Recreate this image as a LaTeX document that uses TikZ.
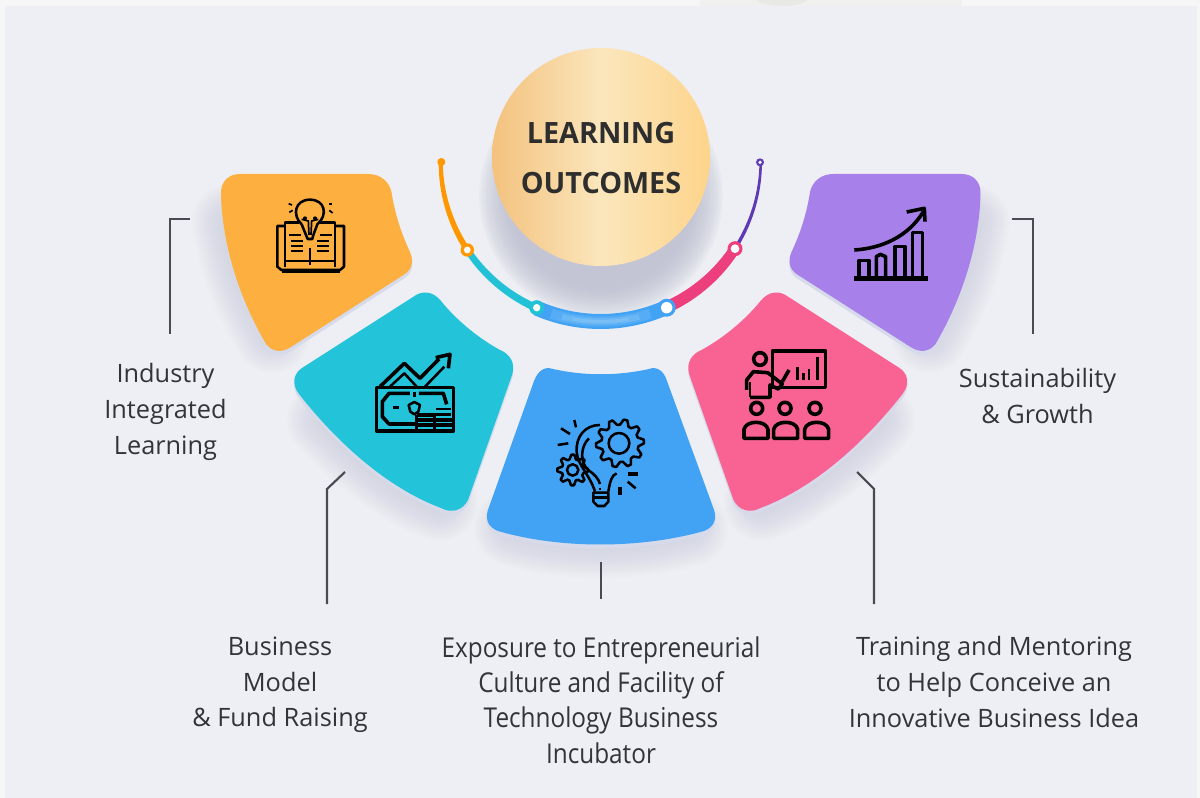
\documentclass[tikz,border=0pt]{standalone}
\usepackage{fontspec}
\setmainfont{Open Sans}
\newfontfamily\condfont[FakeStretch=0.89]{Open Sans}
\newfontfamily\titlefont[FakeStretch=0.98]{Open Sans}
\usetikzlibrary{calc}
\definecolor{pagebg}{HTML}{F6F6F6}
\definecolor{panelbg}{HTML}{EEEFF4}
\definecolor{patchA}{HTML}{F0F1EF}
\definecolor{patchB}{HTML}{E8E8E5}
\definecolor{shc}{HTML}{BCBED0}
\definecolor{edgec}{HTML}{D6DAEA}
\definecolor{leadc}{HTML}{4A4A55}
\definecolor{txt}{HTML}{33333A}
\definecolor{titlec}{HTML}{2E2E2E}
\definecolor{corange}{HTML}{FDB040}
\definecolor{cteal}{HTML}{23C3D9}
\definecolor{cblue}{HTML}{42A3F5}
\definecolor{cpink}{HTML}{F96394}
\definecolor{cpurple}{HTML}{A781E9}
\definecolor{aorange}{HTML}{FF9800}
\definecolor{ateal}{HTML}{22C1D6}
\definecolor{ablue}{HTML}{42A3F5}
\definecolor{ablight}{HTML}{A6D6F8}
\definecolor{apink}{HTML}{EC3F7C}
\definecolor{apurple}{HTML}{5E3AB5}
\definecolor{gradL}{HTML}{F3C27E}
\definecolor{gradM}{HTML}{FBE6BC}
\definecolor{gradR}{HTML}{FDD48B}
\newcommand\shapeA{(240,174) -- (368,174) .. controls (380,174) and (389,181) .. (391.5,192) .. controls (395,215) and (402,235) .. (410,252) .. controls (414,261) and (412,269) .. (405,274) -- (291,347) .. controls (282,353) and (272,352) .. (266,344) .. controls (240,300) and (222,245) .. (221,194) .. controls (220.5,181) and (229,174) .. (240,174) -- cycle}
\newcommand\shapeB{(413,297) -- (302,368) .. controls (294,373) and (291,384) .. (299,394) .. controls (335,440) and (385,487) .. (441,508) .. controls (452,514) and (463,510) .. (468,500) -- (511,378) .. controls (516,366) and (512,357) .. (504,352) .. controls (482,341) and (458,322) .. (441,301) .. controls (433,291) and (422,290) .. (413,297) -- cycle}
\newcommand\shapeC{(534,381) .. controls (538,371) and (544,366) .. (553,369) .. controls (585,376) and (617,376) .. (649,369) .. controls (657,366) and (664,371) .. (667,381) -- (713,507) .. controls (718,519) and (714,527) .. (704,531) .. controls (640,549) and (560,549) .. (498,531) .. controls (488,527) and (484,519) .. (489,507) -- cycle}
\newcommand\outerA{(272,335) .. controls (252,300) and (236,265) .. (230,222)}
\newcommand\outerB{(325,420) .. controls (350,445) and (390,485) .. (440,503)}
\newcommand\outerC{(512,528) .. controls (560,544) and (640,544) .. (690,528)}
\newcommand\softshadow[1]{%
  \foreach \w in {4,8,...,76} \draw[shc,opacity=.03,line width=\w*0.75pt,line cap=round] #1;}
\newcommand\petal[2]{%
  \fill[edgec,shift={(0,4)}] #1;
  \fill[#2] #1;}
\newcommand\taperarc[5]{%
  \fill[#1] plot[domain=#2:#3,samples=40,variable=\a] ({600.7+(160+(#4+(#5-#4)*(\a-#2)/(#3-#2))/2)*cos(\a)},{161.5+(160+(#4+(#5-#4)*(\a-#2)/(#3-#2))/2)*sin(\a)})
   -- plot[domain=#3:#2,samples=40,variable=\a] ({600.7+(160-(#4+(#5-#4)*(\a-#2)/(#3-#2))/2)*cos(\a)},{161.5+(160-(#4+(#5-#4)*(\a-#2)/(#3-#2))/2)*sin(\a)}) -- cycle;}
\newcommand\ring[6]{% name x y colour outer inner
  \node[circle,fill=#4,minimum size=#5*0.75pt,inner sep=0pt] (#1) at (#2,#3) {};
  \fill[white] (#1.center) circle[radius=#6];}
\newcommand\gearicon[7]{% cx cy rin rout samples count rot
  \draw[ic] plot[domain=0:#6,samples=#5,variable=\i] ({#1+(mod(round(\i),4)<2?#4:#3)*cos(#7+\i*360/#6)},{#2+(mod(round(\i),4)<2?#4:#3)*sin(#7+\i*360/#6)}) -- cycle;}
\tikzset{
  lead/.style={draw=leadc,line width=1.6pt,line join=miter},
  lab/.style={text=txt,align=center,inner sep=0pt,font=\fontsize{19pt}{26.8pt}\selectfont},
  labc/.style={text=txt,align=center,inner sep=0pt,font=\condfont\fontsize{20.5pt}{26.4pt}\selectfont},
  ic/.style={draw=black,line width=1.9pt,line join=round},
  icb/.style={draw=black,line width=2.7pt,line join=round},
  icn/.style={draw=black,line width=1.3pt},
}
\begin{document}
\begin{tikzpicture}[x=0.75pt,y=-0.75pt]
\useasboundingbox (0,0) rectangle (1200,798);
\fill[pagebg] (0,0) rectangle (1200,798);
\fill[patchA] (700,0) rectangle (962,6);
\fill[patchB] (757,0) .. controls (765,8) and (800,8) .. (807,0) -- cycle;
\fill[panelbg] (5,6) rectangle (1197,798);

% soft shadows
\softshadow{\outerA}
\softshadow{\outerB}
\softshadow{\outerC}
\begin{scope}[shift={(1201.5,0)},xscale=-1]
\softshadow{\outerA}
\softshadow{\outerB}
\end{scope}
% petals
\petal{\shapeA}{corange}
\petal{\shapeB}{cteal}
\petal{\shapeC}{cblue}
\begin{scope}[shift={(1201.5,0)},xscale=-1]
\petal{\shapeB}{cpink}
\petal{\shapeA}{cpurple}
\end{scope}

% central circle with shadow
\foreach \r in {122,120,...,92} \fill[shc,opacity=.09] (601,196) circle[radius=\r];
\shade[left color=gradL,right color=gradR,middle color=gradM] (601,157) circle[radius=109];
\node[inner sep=0pt,align=center,text=titlec,font=\titlefont\bfseries\fontsize{22pt}{37.5pt}\selectfont] (title) at (601,158) {LEARNING\\OUTCOMES};

% arc
\taperarc{aorange}{180}{146.4}{4}{6}
\taperarc{ateal}{146.4}{113.6}{6.5}{7.5}
\taperarc{ablue}{113.6}{65.7}{15}{15}
\taperarc{ablight,opacity=.2}{108}{72}{10}{10}
\taperarc{ablight,opacity=.25}{104}{76}{6}{6}
\taperarc{ablight,opacity=.25}{100}{80}{3}{3}
\taperarc{apink}{65.7}{33}{12}{10.5}
\taperarc{apurple}{33}{0.3}{3.5}{2.5}
\node[circle,fill=aorange,minimum size=6pt,inner sep=0pt] (dotA) at (441.3,162) {};
\ring{nA}{467.3}{250}{aorange}{13.4}{3.4}
\ring{nB}{536.7}{307.7}{ateal}{15}{3.7}
\ring{nC}{666.7}{307.7}{ablue}{18}{5.7}
\ring{nD}{735}{248.7}{apink}{15}{4.4}
\ring{nE}{760}{162.3}{apurple}{8}{1.8}

% leaders
\coordinate (l1a) at (190,219); \coordinate (l1b) at (170,219); \coordinate (l1c) at (170,334);
\draw[lead] (l1a) -- (l1b) -- (l1c);
\coordinate (r1a) at (1012,219); \coordinate (r1b) at (1033,219); \coordinate (r1c) at (1033,334);
\draw[lead] (r1a) -- (r1b) -- (r1c);
\coordinate (l2a) at (345,472); \coordinate (l2b) at (327,489); \coordinate (l2c) at (327,604);
\draw[lead] (l2a) -- (l2b) -- (l2c);
\coordinate (r2a) at (857,472); \coordinate (r2b) at (874,489); \coordinate (r2c) at (874,604);
\draw[lead] (r2a) -- (r2b) -- (r2c);
\coordinate (c1a) at (601,562); \coordinate (c1b) at (601,599);
\draw[lead] (c1a) -- (c1b);

% labels
\node[lab] (t1) at (165.5,412) {Industry\\Integrated\\Learning};
\node[lab] (t2) at (1037.5,396) {Sustainability\\\& Growth};
\node[lab] (t3) at (280,685) {Business\\Model\\\& Fund Raising};
\node[labc] (t4) at (601,700) {Exposure to Entrepreneurial\\Culture and Facility of\\Technology Business\\Incubator};
\node[lab] (t5) at (994,682) {Training and Mentoring\\to Help Conceive an\\Innovative Business Idea};

% icon: book and bulb
\begin{scope}[shift={(260,185)},scale=0.3333]
\draw[ic] (125,118) .. controls (95,90) and (105,44) .. (150,44) .. controls (195,44) and (205,90) .. (172,118) -- (160,150);
\draw[ic] (125,118) -- (138,150) -- (143,162) -- (157,162) -- (160,150);
\draw[icn] (125,103) -- (145,108) -- (147,150); \draw[icn] (175,103) -- (155,108) -- (153,150);
\fill (135,100) circle[radius=6]; \fill (165,100) circle[radius=6];
\draw[icn] (86,56) -- (96,60); \draw[icn] (88,82) -- (98,76); \draw[icn] (208,57) -- (216,57); \draw[icn] (208,76) -- (218,84);
\draw[ic] (75,123) -- (52,123) -- (52,245) -- (64,255) -- (240,255) -- (252,245) -- (252,123) -- (225,123);
\draw[ic] (75,245) -- (75,112) -- (118,112); \draw[ic] (225,245) -- (225,112) -- (180,112);
\draw[ic] (75,228) -- (225,228);
\draw[icb] (65,260) -- (240,260);
\draw[ic] (150,190) -- (150,240);
\foreach \y/\a in {150/88,168/92,183/92,198/92} \draw[ic] (\a,\y) -- ++(36,0);
\foreach \y/\a in {150/180,168/172,183/172,198/172} \draw[ic] (\a,\y) -- ++(36,0);
\end{scope}

% icon: money and growth
\begin{scope}[shift={(365,345)},scale=0.3333]
\draw[icb] (35,128) rectangle (265,258);
\draw[icb] (35,258) -- (265,258);
\draw[icb] (45,125) -- (118,55) -- (165,100) -- (222,42);
\draw[ic] (75,125) -- (118,85) -- (155,125);
\draw[ic] (180,125) -- (238,65);
\draw[icb] (212,38) -- (255,28) -- (250,70);
\draw[icb] (135,145) -- (72,145) -- (52,170) -- (52,215) -- (72,237) -- (150,237);
\draw[icb] (162,145) -- (235,145) -- (245,178);
\draw[ic] (148,171) -- (165,180) -- (160,200) -- (148,208) -- (136,200) -- (131,180) -- cycle;
\draw[icb] (84,188) -- (102,188);
\draw[ic] (148,142) -- (148,155);
\draw[icb] (157,210) -- (205,210); \draw[icb] (157,225) -- (262,225); \draw[icb] (157,240) -- (262,240);
\draw[ic] (212,192) -- (258,192); \draw[ic] (212,208) -- (258,208);
\draw[icb] (208,205) -- (208,258); \draw[icb] (155,210) -- (155,258);
\end{scope}

% icon: gears and bulb
\begin{scope}[shift={(545,410)},scale=0.3333]
\gearicon{225}{100}{56}{72}{41}{40}{-9}
\draw[ic] (222,100) circle[radius=31];
\gearicon{83}{180}{33}{46}{33}{32}{-5}
\draw[ic] (83,180) circle[radius=17];
\draw[ic] (165,45) .. controls (120,45) and (92,80) .. (95,125) .. controls (97,165) and (135,195) .. (150,245);
\draw[ic] (132,85) .. controls (105,110) and (105,160) .. (130,180) .. controls (150,195) and (160,205) .. (165,222);
\draw[ic] (165,235) -- (165,240);
\draw[ic] (215,190) .. controls (200,195) and (195,215) .. (190,245);
\draw[ic] (145,248) -- (190,248) -- (190,275) -- (178,288) -- (158,288) -- (145,275) -- cycle;
\draw[ic] (145,262) -- (190,262);
\draw[ic] (88,30) -- (93,52); \draw[ic] (48,55) -- (75,72); \draw[ic] (38,105) -- (70,100);
\draw[icb] (250,192) -- (280,192); \draw[ic] (248,215) -- (272,235); \draw[icb] (225,230) -- (225,255);
\end{scope}

% icon: teacher and students
\begin{scope}[shift={(735,340)},scale=0.3333]
\draw[icb] (112,33) rectangle (272,143);
\draw[icb] (188,82) -- (188,120); \draw[ic] (205,100) -- (205,120); \draw[ic] (222,88) -- (222,120); \draw[ic] (247,50) -- (247,120);
\draw[icb] (75,57) circle[radius=19];
\draw[icb] (45,172) -- (105,172) -- (105,135) -- (130,147) -- (142,132) -- (98,98) -- (55,95) -- (35,120) -- (35,150);
\draw[ic] (45,172) -- (45,125);
\draw[icb] (142,125) -- (162,90);
\foreach \c in {65,150,240} \draw[icb] (\c,205) circle[radius=18];
\foreach \c in {63,152,245}
  \draw[icb] (\c-36,295) -- (\c-36,268) .. controls (\c-30,240) and (\c+30,240) .. (\c+36,268) -- (\c+36,295) -- cycle;
\end{scope}

% icon: growth chart
\begin{scope}[shift={(845,200)},scale=0.3333]
\draw[draw=black,line width=4pt] (28,235) -- (248,235);
\draw[icb] (42,232) -- (42,182) -- (72,182) -- (72,232);
\draw[icb] (94,232) -- (94,170) -- (106,163) -- (122,170) -- (122,232);
\draw[icb] (150,232) -- (150,140) -- (180,140) -- (180,232);
\draw[icb] (203,232) -- (203,98) -- (232,98) -- (232,232);
\draw[icb] (28,150) .. controls (110,145) and (190,110) .. (235,35);
\draw[icb] (185,36) -- (238,25) -- (240,65);
\end{scope}
\end{tikzpicture}
\end{document}
